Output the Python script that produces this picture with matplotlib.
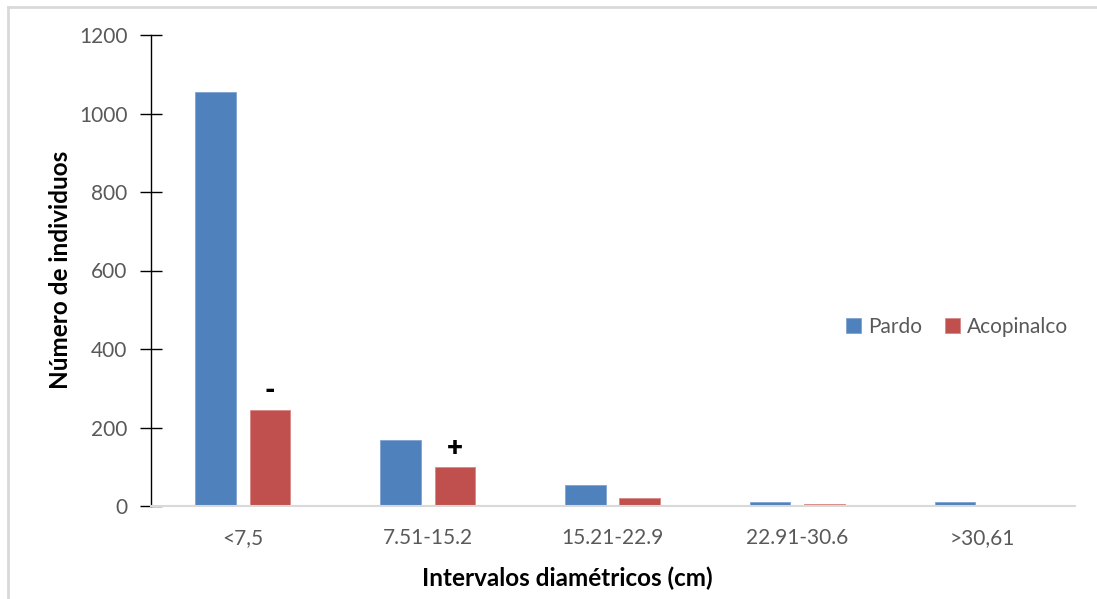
import matplotlib
matplotlib.use("Agg")
import matplotlib.pyplot as plt
from matplotlib.lines import Line2D
import numpy as np

categories = ["<7,5", "7.51-15.2", "15.21-22.9", "22.91-30.6", ">30,61"]
pardo = [1055, 168, 53, 10, 10]
acopinalco = [245, 99, 20, 4, 0]
series_names = ["Pardo", "Acopinalco"]
marks = {0: "-", 1: "+"}  # sign shown above the Acopinalco bar

blue = "#4f81bd"
red = "#c0504d"
grey_text = "#595959"

plt.rcParams["font.family"] = ["Lato", "DejaVu Sans"]

fig = plt.figure(figsize=(10.97, 5.99), dpi=100)
ax = fig.add_axes([150.5 / 1097, 1 - 506 / 599, 924 / 1097, 471 / 599])

x = np.arange(len(categories))
w = 0.22
off = 0.1475
ax.bar(x - off, pardo, width=w, color=blue, edgecolor="#7fa3d1", linewidth=0.6, label=series_names[0])
ax.bar(x + off, acopinalco, width=w, color=red, edgecolor="#d98784", linewidth=0.6, label=series_names[1])

for i, s in marks.items():
    ax.text(x[i] + off, acopinalco[i] + 16, s, ha="center", va="bottom",
            fontsize=20, fontweight="heavy", color="black")

ax.set_xlim(-0.5, len(categories) - 0.5)
ax.set_ylim(0, 1200)
ax.set_yticks(range(0, 1201, 200))
ax.set_xticks(x)
ax.set_xticklabels(categories)

for sp in ["top", "right"]:
    ax.spines[sp].set_visible(False)
ax.spines["left"].set_color("black")
ax.spines["left"].set_linewidth(1.0)
ax.spines["bottom"].set_color("#d9d9d9")
ax.spines["bottom"].set_linewidth(1.5)

ax.tick_params(axis="y", direction="inout", length=16, width=1.0, colors="black",
               labelcolor=grey_text, labelsize=15, pad=8.5)
ax.tick_params(axis="x", length=0, labelcolor=grey_text, labelsize=15, pad=16)

ax.set_xlabel("Intervalos diamétricos (cm)", fontsize=17.5, fontweight="bold")
ax.set_ylabel("Número de individuos", fontsize=17.5, fontweight="bold")
ax.xaxis.set_label_coords((567 - 150.5) / 924, -(578 - 506) / 471)
ax.yaxis.set_label_coords(-(150.5 - 60) / 924, (506 - 270) / 471)
ax.xaxis.label.set_va("center")
ax.yaxis.label.set_va("center")

leg = ax.legend(loc="center left", bbox_to_anchor=(0.753, 0.38), ncol=2, frameon=False,
                fontsize=15, handlelength=0.7, handleheight=0.7, handletextpad=0.35,
                columnspacing=1.1, labelcolor=grey_text, borderpad=0, borderaxespad=0)

# outer chart frame
fig.add_artist(Line2D([8 / 1097, 1], [1 - 7 / 599, 1 - 7 / 599], transform=fig.transFigure,
                      color="#d9d9d9", linewidth=2))
fig.add_artist(Line2D([8 / 1097, 8 / 1097], [0, 1 - 7 / 599], transform=fig.transFigure,
                      color="#d9d9d9", linewidth=2))

fig.savefig("out.png", dpi=100, facecolor="white")
